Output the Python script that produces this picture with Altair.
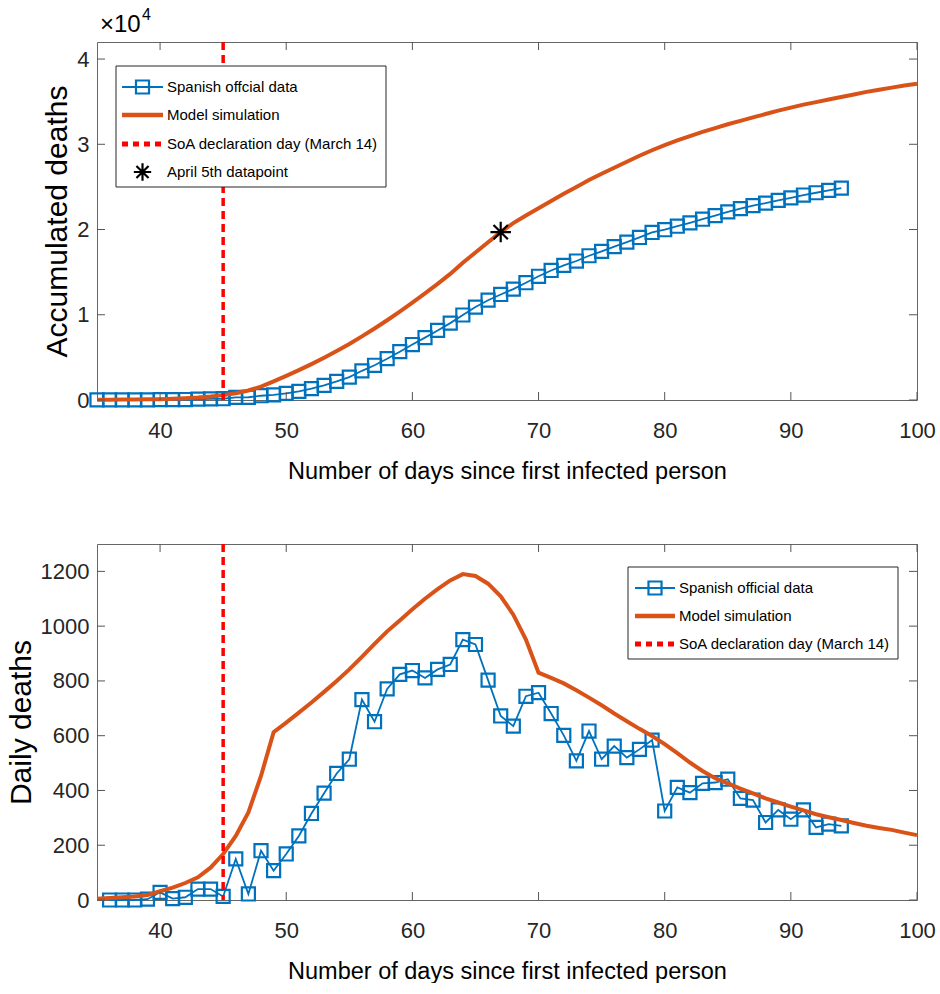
import altair as alt
import pandas as pd

# ---------------- data ----------------
acc_days = list(range(35, 95))
acc_official = [10, 10, 10, 10, 13, 41, 46, 56, 96, 136,
                149, 299, 321, 501, 608, 776, 1010, 1326, 1716, 2178,
                2692, 3424, 4075, 4846, 5670, 6508, 7319, 8161, 9021, 9972,
                10905, 11708, 12380, 13015, 13759, 14516, 15197, 15798, 16306, 16923,
                17437, 17999, 18519, 19069, 19653, 19978, 20389, 20781, 21207, 21636,
                22077, 22448, 22813, 23096, 23425, 23720, 24049, 24314, 24591, 24862]

model_days = list(range(35, 101))
acc_model = [30, 35, 45, 55, 75, 100, 140, 200, 280, 400,
             570, 800, 1120, 1570, 2180, 2830, 3500, 4210, 4960, 5750,
             6580, 7460, 8390, 9360, 10370, 11420, 12510, 13630, 14790, 16100,
             17300, 18500, 19700, 20750, 21650, 22500, 23350, 24200, 25000, 25800,
             26550, 27250, 27950, 28650, 29300, 29900, 30450, 30950, 31450, 31900,
             32350, 32750, 33150, 33550, 33950, 34300, 34650, 34950, 35250, 35550,
             35850, 36150, 36400, 36650, 36900, 37100]

april5_day = [67]
april5_value = [19700]

daily_days = list(range(36, 95))
daily_official = [0, 0, 0, 3, 28, 5, 10, 40, 40, 13,
                  150, 22, 180, 107, 168, 234, 316, 390, 462, 514,
                  732, 651, 771, 824, 838, 811, 842, 860, 951, 933,
                  803, 672, 635, 744, 757, 681, 601, 508, 617, 514,
                  562, 520, 550, 584, 325, 411, 392, 426, 429, 441,
                  371, 365, 283, 329, 295, 329, 265, 277, 271]

daily_model = [5, 7, 10, 13, 18, 32, 45, 62, 83, 118,
               168, 234, 320, 453, 613, 648, 684, 721, 760, 800,
               842, 888, 935, 981, 1021, 1062, 1100, 1135, 1167, 1190,
               1183, 1155, 1109, 1042, 951, 830, 811, 791, 766, 739,
               711, 681, 653, 625, 599, 569, 536, 502, 471, 445,
               426, 407, 389, 371, 356, 341, 327, 313, 302, 292,
               281, 271, 263, 256, 246, 237]

soa_day = [45]

x_ticks = [40, 50, 60, 70, 80, 90, 100]
acc_ticks = [0, 10000, 20000, 30000, 40000]
daily_ticks = [0, 200, 400, 600, 800, 1000, 1200]

# ---------------- style ----------------
W = 820
H1 = 358
H2 = 356
BLUE = "#0072BD"
ORANGE = "#D95319"
RED = "#FF0000"
AXC = "#262626"
FONT = "Liberation Sans, Arial, Helvetica, sans-serif"
XTITLE = "Number of days since first infected person"
ASTER = "M-1,0L1,0M0,-1L0,1M-0.7,-0.7L0.7,0.7M-0.7,0.7L0.7,-0.7"

one = alt.Data(values=[{"a": 1}])


def hline(x1, x2, y, color, width, dash=None):
    kw = dict(color=color, strokeWidth=width)
    if dash:
        kw["strokeDash"] = dash
    return alt.Chart(one).mark_rule(**kw).encode(
        x=alt.value(x1), x2=alt.value(x2), y=alt.value(y))


def label(x, y, txt, size=15):
    return alt.Chart(one).mark_text(align="left", baseline="middle", font=FONT,
                                    fontSize=size, color="#000").encode(
        x=alt.value(x), y=alt.value(y), text=alt.value(txt))


def square(x, y):
    return alt.Chart(one).mark_point(shape="square", filled=False, size=170,
                                     strokeWidth=2.2, color=BLUE, opacity=1).encode(
        x=alt.value(x), y=alt.value(y))


def panel(H, off_days, off_vals, mod_days, mod_vals, ydomain, yticks, ytitle,
          ylabel_expr=None, aster=False, legend=None):
    xscale = alt.Scale(domain=[35, 100], nice=False, zero=False)
    yscale = alt.Scale(domain=ydomain, nice=False, zero=False)
    yaxis_kw = dict(values=yticks, title=ytitle, ticks=False, domain=False, grid=False,
                    labelFont=FONT, labelFontSize=22, labelColor=AXC, labelPadding=8,
                    titleFont=FONT, titleFontSize=30, titleFontWeight="normal",
                    titleColor="#000", titlePadding=4, format="d")
    if ylabel_expr:
        yaxis_kw["labelExpr"] = ylabel_expr
    xaxis = alt.Axis(values=x_ticks, title=XTITLE, ticks=False, domain=False, grid=False,
                     labelFont=FONT, labelFontSize=22, labelColor=AXC, labelPadding=20,
                     titleFont=FONT, titleFontSize=23.5, titleFontWeight="normal",
                     titleColor="#000", titlePadding=18, labelFlush=False)

    off = pd.DataFrame({"x": off_days, "y": off_vals})
    mod = pd.DataFrame({"x": mod_days, "y": mod_vals})

    base_line = alt.Chart(off).mark_line(color=BLUE, strokeWidth=1.8).encode(
        x=alt.X("x:Q", scale=xscale, axis=xaxis),
        y=alt.Y("y:Q", scale=yscale, axis=alt.Axis(**yaxis_kw)))
    pts = alt.Chart(off).mark_point(shape="square", filled=False, size=170,
                                    strokeWidth=2.2, color=BLUE, opacity=1).encode(
        x="x:Q", y="y:Q")
    model = alt.Chart(mod).mark_line(color=ORANGE, strokeWidth=4).encode(x="x:Q", y="y:Q")
    vline = alt.Chart(pd.DataFrame({"x": soa_day})).mark_rule(
        color=RED, strokeWidth=3.5, strokeDash=[8, 5]).encode(x="x:Q")

    layers = [base_line, pts, model, vline]
    if aster:
        layers.append(alt.Chart(pd.DataFrame({"x": april5_day, "y": april5_value})).mark_point(
            shape=ASTER, size=420, filled=False, color="#000", strokeWidth=2.2, opacity=1
        ).encode(x="x:Q", y="y:Q"))

    # inward ticks (box style)
    xt = pd.DataFrame({"x": x_ticks})
    yt = pd.DataFrame({"y": yticks})
    tick_kw = dict(color="#555555", strokeWidth=1)
    layers += [
        alt.Chart(xt).mark_rule(**tick_kw).encode(x="x:Q", y=alt.value(H), y2=alt.value(H - 8)),
        alt.Chart(xt).mark_rule(**tick_kw).encode(x="x:Q", y=alt.value(0), y2=alt.value(8)),
        alt.Chart(yt).mark_rule(**tick_kw).encode(y="y:Q", x=alt.value(0), x2=alt.value(8)),
        alt.Chart(yt).mark_rule(**tick_kw).encode(y="y:Q", x=alt.value(W), x2=alt.value(W - 8)),
    ]

    # legend box
    lx0, lx1, ly0, ly1, rows, sx0, sx1, tx, items = legend
    layers.append(alt.Chart(one).mark_rect(fill="white", stroke=AXC, strokeWidth=1).encode(
        x=alt.value(lx0), x2=alt.value(lx1), y=alt.value(ly0), y2=alt.value(ly1)))
    cx = (sx0 + sx1) / 2
    for ry, (kind, txt) in zip(rows, items):
        if kind == "data":
            layers.append(hline(sx0, sx1, ry, BLUE, 2))
            layers.append(square(cx, ry))
        elif kind == "model":
            layers.append(hline(sx0, sx1, ry, ORANGE, 4.5))
        elif kind == "soa":
            layers.append(hline(sx0, sx1, ry, RED, 5, [6, 5]))
        elif kind == "aster":
            layers.append(alt.Chart(one).mark_point(
                shape=ASTER, size=300, filled=False, color="#000", strokeWidth=2.2, opacity=1
            ).encode(x=alt.value(cx), y=alt.value(ry)))
        layers.append(label(tx, ry, txt))

    return alt.layer(*layers).properties(width=W, height=H)


top = panel(
    H1, acc_days, acc_official, model_days, acc_model, [0, 42000], acc_ticks,
    "Accumulated deaths", ylabel_expr="datum.value / 10000", aster=True,
    legend=(19, 289, 24, 145, [45, 73, 102, 130], 25, 66, 70,
            [("data", "Spanish offcial data"), ("model", "Model simulation"),
             ("soa", "SoA declaration day (March 14)"), ("aster", "April 5th datapoint")]))

# x10^4 multiplier
top = alt.layer(
    top,
    label(3, -17, "\u00d710", size=24),
    label(45, -27, "4", size=16),
)

bottom = panel(
    H2, daily_days, daily_official, model_days, daily_model, [0, 1300], daily_ticks,
    "Daily deaths",
    legend=(531, 801, 23, 115, [44, 72, 100], 538, 578, 582,
            [("data", "Spanish official data"), ("model", "Model simulation"),
             ("soa", "SoA declaration day (March 14)")]))

chart = alt.vconcat(top, bottom, spacing=58).properties(
    padding={"left": 5, "top": 6, "right": 2, "bottom": 0},
    background="white",
).configure_view(stroke="#666666", strokeWidth=1)

chart.save("out.html", embed_options={"renderer": "svg", "actions": False})
